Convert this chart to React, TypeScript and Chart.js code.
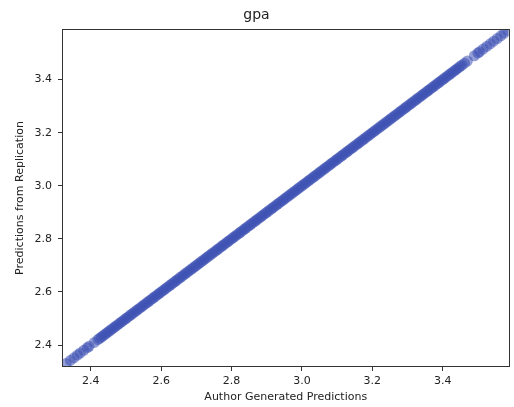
import React, { useEffect, useRef } from "react";
import { Chart, registerables } from "chart.js";

Chart.register(...registerables);

const chartTitle = "gpa";
const xAxisLabel = "Author Generated Predictions";
const yAxisLabel = "Predictions from Replication";
const axisMin = 2.321;
const axisMax = 3.587;
const tickStep = 0.2;

// Author generated predictions (x)
const authorPredictions: number[] = [
  2.33, 2.342, 2.352, 2.362, 2.37, 2.38, 2.39, 2.395, 2.41,
  2.42, 2.425, 2.43, 2.435, 2.44, 2.445, 2.45, 2.455, 2.46, 2.465, 2.47, 2.475, 2.48, 2.485, 2.49, 2.495,
  2.5, 2.505, 2.51, 2.515, 2.52, 2.525, 2.53, 2.535, 2.54, 2.545, 2.55, 2.555, 2.56, 2.565, 2.57, 2.575, 2.58, 2.585, 2.59, 2.595,
  2.6, 2.605, 2.61, 2.615, 2.62, 2.625, 2.63, 2.635, 2.64, 2.645, 2.65, 2.655, 2.66, 2.665, 2.67, 2.675, 2.68, 2.685, 2.69, 2.695,
  2.7, 2.705, 2.71, 2.715, 2.72, 2.725, 2.73, 2.735, 2.74, 2.745, 2.75, 2.755, 2.76, 2.765, 2.77, 2.775, 2.78, 2.785, 2.79, 2.795,
  2.8, 2.805, 2.81, 2.815, 2.82, 2.825, 2.83, 2.835, 2.84, 2.845, 2.85, 2.855, 2.86, 2.865, 2.87, 2.875, 2.88, 2.885, 2.89, 2.895,
  2.9, 2.905, 2.91, 2.915, 2.92, 2.925, 2.93, 2.935, 2.94, 2.945, 2.95, 2.955, 2.96, 2.965, 2.97, 2.975, 2.98, 2.985, 2.99, 2.995,
  3.0, 3.005, 3.01, 3.015, 3.02, 3.025, 3.03, 3.035, 3.04, 3.045, 3.05, 3.055, 3.06, 3.065, 3.07, 3.075, 3.08, 3.085, 3.09, 3.095,
  3.1, 3.105, 3.11, 3.115, 3.12, 3.125, 3.13, 3.135, 3.14, 3.145, 3.15, 3.155, 3.16, 3.165, 3.17, 3.175, 3.18, 3.185, 3.19, 3.195,
  3.2, 3.205, 3.21, 3.215, 3.22, 3.225, 3.23, 3.235, 3.24, 3.245, 3.25, 3.255, 3.26, 3.265, 3.27, 3.275, 3.28, 3.285, 3.29, 3.295,
  3.3, 3.305, 3.31, 3.315, 3.32, 3.325, 3.33, 3.335, 3.34, 3.345, 3.35, 3.355, 3.36, 3.365, 3.37, 3.375, 3.38, 3.385, 3.39, 3.395,
  3.4, 3.405, 3.41, 3.415, 3.42, 3.425, 3.43, 3.435, 3.44, 3.445, 3.45,
  3.455, 3.462, 3.47, 3.49, 3.5, 3.505, 3.515, 3.525, 3.535, 3.545, 3.555, 3.565, 3.575, 3.585,
];

// Predictions from the replication (y)
const replicationPredictions: number[] = [
  2.33, 2.342, 2.352, 2.362, 2.37, 2.38, 2.39, 2.395, 2.41,
  2.42, 2.425, 2.43, 2.435, 2.44, 2.445, 2.45, 2.455, 2.46, 2.465, 2.47, 2.475, 2.48, 2.485, 2.49, 2.495,
  2.5, 2.505, 2.51, 2.515, 2.52, 2.525, 2.53, 2.535, 2.54, 2.545, 2.55, 2.555, 2.56, 2.565, 2.57, 2.575, 2.58, 2.585, 2.59, 2.595,
  2.6, 2.605, 2.61, 2.615, 2.62, 2.625, 2.63, 2.635, 2.64, 2.645, 2.65, 2.655, 2.66, 2.665, 2.67, 2.675, 2.68, 2.685, 2.69, 2.695,
  2.7, 2.705, 2.71, 2.715, 2.72, 2.725, 2.73, 2.735, 2.74, 2.745, 2.75, 2.755, 2.76, 2.765, 2.77, 2.775, 2.78, 2.785, 2.79, 2.795,
  2.8, 2.805, 2.81, 2.815, 2.82, 2.825, 2.83, 2.835, 2.84, 2.845, 2.85, 2.855, 2.86, 2.865, 2.87, 2.875, 2.88, 2.885, 2.89, 2.895,
  2.9, 2.905, 2.91, 2.915, 2.92, 2.925, 2.93, 2.935, 2.94, 2.945, 2.95, 2.955, 2.96, 2.965, 2.97, 2.975, 2.98, 2.985, 2.99, 2.995,
  3.0, 3.005, 3.01, 3.015, 3.02, 3.025, 3.03, 3.035, 3.04, 3.045, 3.05, 3.055, 3.06, 3.065, 3.07, 3.075, 3.08, 3.085, 3.09, 3.095,
  3.1, 3.105, 3.11, 3.115, 3.12, 3.125, 3.13, 3.135, 3.14, 3.145, 3.15, 3.155, 3.16, 3.165, 3.17, 3.175, 3.18, 3.185, 3.19, 3.195,
  3.2, 3.205, 3.21, 3.215, 3.22, 3.225, 3.23, 3.235, 3.24, 3.245, 3.25, 3.255, 3.26, 3.265, 3.27, 3.275, 3.28, 3.285, 3.29, 3.295,
  3.3, 3.305, 3.31, 3.315, 3.32, 3.325, 3.33, 3.335, 3.34, 3.345, 3.35, 3.355, 3.36, 3.365, 3.37, 3.375, 3.38, 3.385, 3.39, 3.395,
  3.4, 3.405, 3.41, 3.415, 3.42, 3.425, 3.43, 3.435, 3.44, 3.445, 3.45,
  3.455, 3.462, 3.47, 3.49, 3.5, 3.505, 3.515, 3.525, 3.535, 3.545, 3.555, 3.565, 3.575, 3.585,
];

const frameBox = {
  id: "frameBox",
  afterDatasetsDraw(chart: any) {
    const { ctx, chartArea } = chart;
    ctx.save();
    ctx.strokeStyle = "#333";
    ctx.lineWidth = 1;
    ctx.strokeRect(
      Math.round(chartArea.left) - 0.5,
      Math.round(chartArea.top) - 0.5,
      Math.round(chartArea.right - chartArea.left) + 1,
      Math.round(chartArea.bottom - chartArea.top) + 1
    );
    ctx.restore();
  },
};

export default function App() {
  const ref = useRef<HTMLCanvasElement>(null);
  useEffect(() => {
    if (!ref.current) return;
    const points = authorPredictions.map((x, i) => ({ x, y: replicationPredictions[i] }));
    const font = { family: "DejaVu Sans", size: 11 };
    const chart = new Chart(ref.current, {
      type: "scatter",
      data: {
        datasets: [
          {
            data: points,
            backgroundColor: "rgba(60, 80, 178, 0.55)",
            borderWidth: 0,
            pointRadius: 5.5,
          },
        ],
      },
      options: {
        animation: false,
        responsive: true,
        maintainAspectRatio: false,
        layout: { padding: { left: 0, right: 1, top: 0, bottom: 0 } },
        plugins: {
          legend: { display: false },
          tooltip: { enabled: false },
          title: {
            display: true,
            text: chartTitle,
            color: "#222",
            font: { family: "DejaVu Sans", size: 14, weight: "normal" },
            padding: { top: 7, bottom: 6.2 },
          },
        },
        scales: {
          x: {
            type: "linear",
            min: axisMin,
            max: axisMax,
            afterFit: (s: any) => {
              s.height = 41;
            },
            ticks: {
              stepSize: tickStep,
              includeBounds: false,
              color: "#222",
              font,
              padding: 4,
              maxRotation: 0,
              callback: (v: any) => Number(v).toFixed(1),
            },
            grid: { drawOnChartArea: false, drawTicks: true, tickLength: 5, tickColor: "#333" },
            border: { display: false },
            title: {
              display: true,
              text: xAxisLabel,
              color: "#222",
              font,
              padding: { top: 0, bottom: 3.4 },
            },
          },
          y: {
            type: "linear",
            min: axisMin,
            max: axisMax,
            afterFit: (s: any) => {
              s.width = 63;
            },
            ticks: {
              stepSize: tickStep,
              includeBounds: false,
              color: "#222",
              font,
              padding: 6,
              callback: (v: any) => Number(v).toFixed(1),
            },
            grid: { drawOnChartArea: false, drawTicks: true, tickLength: 5, tickColor: "#333" },
            border: { display: false },
            title: {
              display: true,
              text: yAxisLabel,
              color: "#222",
              font,
              padding: { top: 14, bottom: 0 },
            },
          },
        },
      },
      plugins: [frameBox],
    });
    return () => chart.destroy();
  }, []);
  return (
    <div style={{ position: "absolute", left: 0, top: 0, width: 514, height: 407, background: "#fff" }}>
      <canvas ref={ref} />
    </div>
  );
}
